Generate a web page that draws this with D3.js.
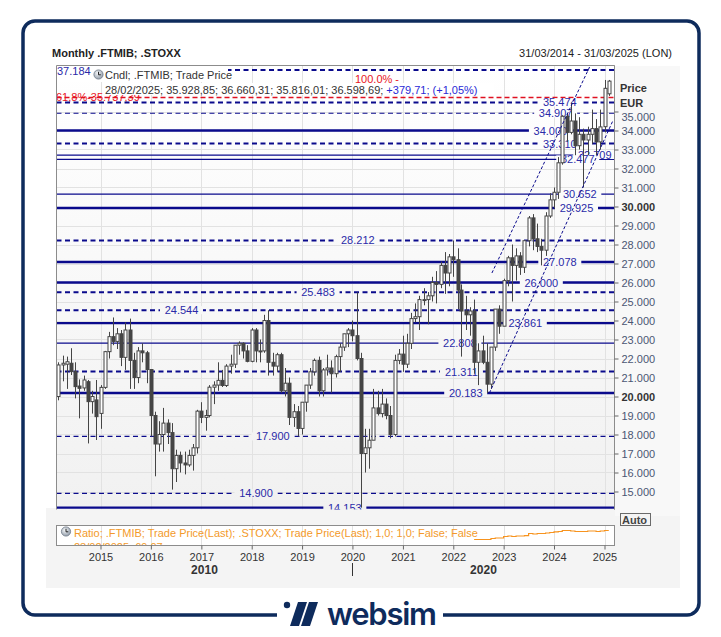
<!DOCTYPE html>
<html><head><meta charset="utf-8">
<script src="https://cdn.jsdelivr.net/npm/d3@7"></script>
<style>
body{margin:0;background:#fff;}
svg{display:block;font-family:"Liberation Sans",Arial,sans-serif;}
</style></head><body><svg id="c" width="721" height="637"></svg>
<script>
// ---------------- DATA ----------------
const startMonth = "2014-03";
const opens  = [20.00,21.66,21.70,21.75,21.31,20.55,20.45,20.78,19.73,19.82,
 19.11,20.48,22.36,23.15,22.90,23.30,22.06,23.50,21.90,21.00,22.40,22.30,
 21.42,19.00,17.50,18.00,18.60,18.10,16.20,16.90,16.50,16.40,16.90,17.30,
 19.23,18.90,19.00,20.49,20.60,20.85,20.58,21.60,21.70,22.70,22.80,22.40,
 21.85,23.50,22.40,22.40,24.00,21.80,21.60,22.20,20.30,20.70,18.90,19.20,
 18.32,19.70,20.60,21.30,21.90,20.30,21.40,21.50,21.20,22.10,22.60,23.30,
 23.50,23.20,22.00,17.00,17.30,17.70,19.40,19.10,19.60,19.00,18.00,21.90,
 22.23,21.70,22.80,24.10,24.20,25.10,25.10,25.30,26.00,25.90,26.90,26.50,
 27.35,27.20,25.60,24.50,24.30,24.50,21.80,22.40,21.80,20.65,22.60,24.60,
 23.70,26.10,27.30,26.90,27.40,26.80,28.20,29.40,28.30,27.90,27.70,29.50,
 30.35,30.75,32.30,34.75,33.90,34.50,33.20,33.80,33.50,33.80,34.10,33.40,
 34.20,35.93];
const highs  = [21.80,22.15,22.10,22.54,21.80,20.90,21.10,20.87,20.30,20.87,
 20.60,22.40,23.40,24.16,23.60,23.50,23.90,24.10,22.30,22.60,22.80,22.40,
 21.42,19.20,18.70,19.40,18.80,18.60,17.20,17.10,17.10,17.20,17.50,19.30,
 19.70,19.30,20.60,20.80,21.80,21.40,21.70,22.20,22.70,22.90,22.85,22.70,
 23.60,23.60,23.00,24.30,24.54,22.30,22.30,22.30,21.50,21.00,19.60,19.50,
 19.70,20.60,21.50,22.00,22.10,21.50,22.20,21.90,22.20,22.80,23.30,23.60,
 24.00,25.48,22.30,18.30,18.30,20.40,20.30,20.40,19.90,19.50,22.20,22.50,
 23.20,23.30,24.40,24.90,25.30,25.70,25.50,26.30,26.60,27.10,27.60,27.50,
 28.21,27.80,25.90,25.30,24.70,25.10,22.80,23.20,22.80,22.60,24.60,24.80,
 26.20,27.40,28.00,27.80,27.60,28.10,29.50,29.60,29.10,28.30,29.70,30.70,
 31.00,32.60,34.80,34.90,35.47,34.90,34.70,34.10,34.20,35.10,34.60,35.10,
 36.66,36.66];
const lows   = [19.80,20.80,20.40,21.13,19.90,18.85,20.30,17.53,19.10,17.71,
 18.30,20.40,22.00,22.70,22.50,21.60,21.40,20.40,20.40,20.70,21.80,20.70,
 17.90,15.80,17.10,17.10,17.50,15.10,15.50,16.00,15.90,16.30,16.10,17.00,
 18.60,18.20,18.90,19.60,20.30,20.50,20.50,21.20,21.50,22.20,22.00,21.80,
 21.80,21.80,21.80,22.30,21.10,21.10,21.30,20.20,20.00,18.50,18.40,17.90,
 18.00,19.20,20.40,21.10,20.00,20.00,21.10,20.20,21.00,21.30,22.40,22.60,
 22.90,21.90,14.15,16.00,16.20,17.70,19.00,18.90,18.80,17.80,17.90,21.70,
 21.30,21.50,22.50,23.90,23.50,24.80,23.80,25.00,24.90,25.70,25.40,25.80,
 26.30,24.60,22.10,23.50,23.20,21.20,20.60,21.70,20.18,20.40,22.40,23.30,
 23.70,25.80,25.00,26.10,26.40,26.50,27.90,27.70,27.60,26.90,27.40,29.40,
 29.90,30.40,32.20,33.40,33.80,32.70,33.00,31.00,32.70,33.30,32.70,33.00,
 33.90,35.82];
const closes = [21.66,21.75,21.83,21.31,20.52,20.43,20.87,19.73,20.00,18.94,
 20.48,22.36,23.15,22.90,23.30,22.06,23.50,21.90,21.00,22.40,22.30,21.42,
 19.00,17.50,18.00,18.60,18.10,16.20,16.90,16.50,16.40,16.90,17.30,19.23,
 18.90,19.00,20.49,20.60,20.85,20.58,21.60,21.70,22.70,22.80,22.40,21.85,
 23.50,22.40,22.40,24.00,21.80,21.60,22.20,20.30,20.70,18.90,19.20,18.32,
 19.70,20.60,21.30,21.90,20.30,21.40,21.50,21.20,22.10,22.60,23.30,23.50,
 23.20,22.00,17.00,17.30,17.70,19.40,19.10,19.60,19.00,18.00,21.90,22.23,
 21.70,22.80,24.10,24.20,25.10,25.10,25.30,26.00,25.90,26.90,26.50,27.35,
 27.20,25.60,24.50,24.30,24.50,21.80,22.40,21.80,20.65,22.60,24.60,23.70,
 26.10,27.30,26.90,27.40,26.80,28.20,29.40,28.30,27.90,27.70,29.50,30.35,
 30.75,32.30,34.75,33.90,34.50,33.20,33.80,33.50,33.80,34.10,33.40,34.19,
 36.22,36.60];

// support / resistance levels (thousands EUR); first one is labelled at the left edge
const levelValues = [37.184,35.474,34.907,34.000,33.310,32.709,32.477,30.652,29.925,28.212,27.078,26.000,25.483,24.544,23.861,22.808,21.311,20.183,17.900,14.900,14.153];
const levelLabelDates = [null,"2024-02-12","2024-01-13","2023-12-06","2024-02-12","2024-10-22","2024-06-21","2024-07-06","2024-06-12","2020-02-09","2024-02-12","2023-10-01","2019-04-27","2016-08-10","2023-06-07","2022-02-18","2022-03-01","2022-04-01","2018-06-03","2018-02-01","2019-11-07"];
const levelKinds = ["thickDash","thickDash","thinDash","thick","thickDash","thin","thin","thin","thick","thickDash","thick","thick","thickDash","thickDash","thick","thin","thickDash","thick","thinDash","thinDash","thick"];

// Fibonacci level
const fibValues = [35.737];
const fibTexts = ["61,8%-35.737,39"];
const fibTopText = "100,0% -";

// trend channel (date, value) pairs
const channelLower = [["2022-09-20",20.183],["2025-03-05",34.55]];
const channelUpper = [["2022-10-08",26.50],["2024-09-20",37.42]];

// ratio panel (.FTMIB / .STOXX)
const ratioStart = "2022-06";
const ratioValues = [52.0,52.0,52.0,52.0,53.9,54.8,54.8,57.7,58.6,57.7,58.6,58.6,59.5,63.3,62.4,63.3,63.3,64.3,65.2,66.2,67.1,69.0,69.0,68.0,67.1,67.1,67.1,68.0,68.0,67.1,68.0,69.0,69.0];

const yTicks = d3.range(15,36);
const xYears = d3.range(2015,2026);
const title = "Monthly .FTMIB; .STOXX";
const dateRange = "31/03/2014 - 31/03/2025 (LON)";
const legend1 = "Cndl; .FTMIB; Trade Price";
const legend2a = "28/02/2025; 35.928,85; 36.660,31; 35.816,01; 36.598,69; ";
const legend2b = "+379,71; (+1,05%)";
const ratioLegend = "Ratio; .FTMIB; Trade Price(Last); .STOXX; Trade Price(Last);  1,0; 1,0; False; False";
const ratioLegend2 = "28/02/2025; 69,07";

// ---------------- LAYOUT ----------------
const svg = d3.select("#c");
const L=56.5,R=614.5,T=65.5,B=509.5, PT=525.5, PB=545.5;
const NAVY="#0a0a8c", LBL="#2a2aa8", CAN="#454545", GRID="#e2e2e2";
const pM = d3.timeParse("%Y-%m"), pD = d3.timeParse("%Y-%m-%d");
const dates = d3.timeMonth.range(pM(startMonth), d3.timeMonth.offset(pM(startMonth), opens.length));
const x = d3.scaleTime().domain([new Date(2015,0,1), new Date(2025,0,1)]).range([100.5,604.5]);
const y = d3.scaleLinear().domain([20,30]).range([396.5,206.5]);
const yR = d3.scaleLinear().domain([40.7,78.4]).range([PB,PT]);
const loc = d3.formatLocale({decimal:",",thousands:".",grouping:[3],currency:["",""]});
const fK = v => loc.format(",")(Math.round(v*1000));

const defs = svg.append("defs");
const g1 = defs.append("linearGradient").attr("id","bg").attr("gradientUnits","userSpaceOnUse")
  .attr("x1",0).attr("y1",T).attr("x2",0).attr("y2",B);
g1.append("stop").attr("offset",0).attr("stop-color","#ffffff");
g1.append("stop").attr("offset",1).attr("stop-color","#f1f1f1");
defs.append("clipPath").attr("id","cp").append("rect").attr("x",L).attr("y",T).attr("width",R-L).attr("height",B-T);
defs.append("clipPath").attr("id","cpr").append("rect").attr("x",L).attr("y",PT).attr("width",R-L).attr("height",PB-PT);
const rg = defs.append("radialGradient").attr("id","ic").attr("cx","40%").attr("cy","35%").attr("r","70%");
rg.append("stop").attr("offset",0).attr("stop-color","#f4f6f8");
rg.append("stop").attr("offset",1).attr("stop-color","#8d98a6");

// page
svg.append("rect").attr("width",721).attr("height",637).attr("fill","#fff");
svg.append("rect").attr("x",46).attr("y",508).attr("width",634).attr("height",80).attr("fill","#f4f4f4");
svg.append("rect").attr("x",615).attr("y",66).attr("width",65).attr("height",450).attr("fill","#f8f8f8");

// title
svg.append("text").attr("x",52).attr("y",57).attr("font-size",11).attr("font-weight","bold").attr("fill","#222").text(title);
svg.append("text").attr("x",672).attr("y",57).attr("text-anchor","end").attr("font-size",11).attr("fill","#222").text(dateRange);

// plot bg
svg.append("rect").attr("x",L).attr("y",T).attr("width",R-L).attr("height",B-T).attr("fill","url(#bg)");
const plot = svg.append("g").attr("clip-path","url(#cp)");
// grid
plot.selectAll(".gy").data(yTicks).join("line").attr("x1",L).attr("x2",R).attr("y1",d=>Math.round(y(d))+0.5).attr("y2",d=>Math.round(y(d))+0.5).attr("stroke",GRID);
plot.selectAll(".gx").data(xYears).join("line").attr("y1",T).attr("y2",B).attr("x1",d=>Math.round(x(new Date(d,0,1)))+0.5).attr("x2",d=>Math.round(x(new Date(d,0,1)))+0.5).attr("stroke",GRID);

// fib texts (under lines)
plot.append("text").attr("x",355).attr("y",83).attr("font-size",11).attr("fill","#e8141e").text(fibTopText);
fibValues.forEach((v,i)=>{
  plot.append("line").attr("x1",L).attr("x2",R).attr("y1",y(v)).attr("y2",y(v)).attr("stroke","#e01020").attr("stroke-width",1.6).attr("stroke-dasharray","5,3");
  plot.append("text").attr("x",56).attr("y",y(v)+4).attr("font-size",11).attr("fill","#e8141e").text(fibTexts[i]);
});

// levels
const kindStyle = {
  thick:{w:2.4,d:null}, thin:{w:1.2,d:null}, thickDash:{w:2,d:"5,3.5"}, thinDash:{w:1.2,d:"5,3.5"}
};
levelValues.forEach((v,i)=>{
  const st = kindStyle[levelKinds[i]];
  const yy = y(v);
  plot.append("line").attr("x1",L).attr("x2",R).attr("y1",yy).attr("y2",yy)
    .attr("stroke",NAVY).attr("stroke-width",st.w).attr("stroke-dasharray",st.d);
});
levelValues.forEach((v,i)=>{
  if(!levelLabelDates[i]) return;
  const yy = y(v), cx = x(pD(levelLabelDates[i]));
  const w = 35;
  plot.append("rect").attr("x",cx-w/2-4).attr("y",yy-4).attr("width",w+8).attr("height",8).attr("fill","url(#bg)");
  plot.append("text").attr("x",cx).attr("y",yy+4).attr("text-anchor","middle").attr("font-size",11).attr("fill",LBL).text(fK(v));
});

// candles
const cw = 3;
const cg = plot.append("g");
cg.selectAll(".w").data(dates).join("line")
  .attr("x1",(d,i)=>Math.round(x(d))+0.5).attr("x2",(d,i)=>Math.round(x(d))+0.5)
  .attr("y1",(d,i)=>y(highs[i])).attr("y2",(d,i)=>y(lows[i])).attr("stroke",CAN).attr("stroke-width",1);
cg.selectAll(".b").data(dates).join("rect")
  .attr("x",(d,i)=>Math.round(x(d))-1)
  .attr("y",(d,i)=>y(Math.max(opens[i],closes[i])))
  .attr("width",cw)
  .attr("height",(d,i)=>Math.max(1,Math.abs(y(opens[i])-y(closes[i]))))
  .attr("fill",(d,i)=>closes[i]>=opens[i]?"#fff":CAN)
  .attr("stroke",CAN).attr("stroke-width",1);

// channel
[channelLower,channelUpper].forEach(c=>{
  plot.append("line").attr("x1",x(pD(c[0][0]))).attr("y1",y(c[0][1])).attr("x2",x(pD(c[1][0]))).attr("y2",y(c[1][1]))
   .attr("stroke",NAVY).attr("stroke-width",1).attr("stroke-dasharray","3,2");
});

// legend (opaque background hides lines beneath it)
svg.append("rect").attr("x",57).attr("y",66).attr("width",171).attr("height",16).attr("fill","#fff");
svg.append("rect").attr("x",103).attr("y",83).attr("width",391).attr("height",12).attr("fill","#fff");
svg.append("circle").attr("cx",98.5).attr("cy",74.5).attr("r",4.6).attr("fill","url(#ic)").attr("stroke","#6d7886").attr("stroke-width",0.8);
svg.append("path").attr("d","M98.5,71.8V74.8H100.8").attr("fill","none").attr("stroke","#222").attr("stroke-width",1);
svg.append("text").attr("x",105).attr("y",79).attr("font-size",11).attr("fill","#333").text(legend1);
const lt = svg.append("text").attr("x",105).attr("y",93.5).attr("font-size",11).attr("fill","#333");
lt.append("tspan").text(legend2a);
lt.append("tspan").attr("fill","#2a2ad6").text(legend2b);
// top level label (left edge)
svg.append("text").attr("x",57).attr("y",75).attr("font-size",11).attr("fill",LBL).text(fK(levelValues[0]));

// plot border
svg.append("path").attr("d",`M${L},${B}V${T}H${R}V${B}`).attr("fill","none").attr("stroke","#8c8c8c");

// y axis
const ya = svg.append("g").attr("transform",`translate(${R},0)`)
  .call(d3.axisRight(y).tickValues(yTicks).tickSize(4).tickFormat(fK));
ya.select(".domain").attr("stroke","#8c8c8c").attr("d",`M0,${T}V${B}`);
ya.selectAll(".tick line").attr("stroke","#666");
ya.selectAll(".tick text").attr("x",7).attr("font-size",11).attr("font-family","Liberation Sans, Arial, sans-serif")
  .attr("fill",d=>(d%10===0)?"#333":"#4b5673").attr("font-weight",d=>(d%10===0)?"bold":"normal");
ya.selectAll(".tick").filter(d=>d===35).select("text").attr("dy","0.85em");
svg.append("text").attr("x",620).attr("y",92).attr("font-size",11).attr("font-weight","bold").attr("fill","#333").text("Price");
svg.append("text").attr("x",620).attr("y",107).attr("font-size",11).attr("font-weight","bold").attr("fill","#333").text("EUR");
// auto button
svg.append("rect").attr("x",620.5).attr("y",513.5).attr("width",30).attr("height",12).attr("fill","#f4f4f4").attr("stroke","#6a6a6a");
svg.append("text").attr("x",622).attr("y",523.5).attr("font-size",11).attr("font-weight","bold").attr("fill","#444").text("Auto");

// ratio panel
svg.append("rect").attr("x",L).attr("y",PT).attr("width",R-L).attr("height",PB-PT).attr("fill","#fff");
const rp = svg.append("g").attr("clip-path","url(#cpr)");
rp.selectAll(".gx").data(xYears).join("line").attr("y1",PT).attr("y2",PB).attr("x1",d=>Math.round(x(new Date(d,0,1)))+0.5).attr("x2",d=>Math.round(x(new Date(d,0,1)))+0.5).attr("stroke",GRID);
const rDates = d3.timeMonth.range(pM(ratioStart), d3.timeMonth.offset(pM(ratioStart), ratioValues.length));
rp.append("path").datum(ratioValues).attr("fill","none").attr("stroke","#f7931e").attr("stroke-width",1.2)
  .attr("d",d3.line().x((d,i)=>x(rDates[i])).y(d=>yR(d)).curve(d3.curveStepAfter));
rp.append("text").attr("x",74).attr("y",537).attr("font-size",11).attr("fill","#f39a2a").text(ratioLegend);
rp.append("text").attr("x",74).attr("y",551).attr("font-size",11).attr("fill","#f39a2a").text(ratioLegend2);
svg.append("circle").attr("cx",66).attr("cy",531.5).attr("r",4.6).attr("fill","url(#ic)").attr("stroke","#6d7886").attr("stroke-width",0.8);
svg.append("path").attr("d","M66,528.8V531.8H68.3").attr("fill","none").attr("stroke","#222").attr("stroke-width",1);
svg.append("rect").attr("x",L).attr("y",PT).attr("width",R-L).attr("height",PB-PT).attr("fill","none").attr("stroke","#8c8c8c");

// x axis
const xa = svg.append("g").attr("transform",`translate(0,${PB})`)
  .call(d3.axisBottom(x).tickValues(xYears.map(d=>new Date(d,0,1))).tickSize(4).tickFormat(d3.timeFormat("%Y")));
xa.select(".domain").remove();
xa.selectAll(".tick line").attr("stroke","#666");
xa.selectAll(".tick text").attr("y",8).attr("font-size",11).attr("font-family","Liberation Sans, Arial, sans-serif").attr("fill","#333");
const x2020 = x(new Date(2020,0,1));
svg.append("text").attr("x",(L+x2020)/2).attr("y",574).attr("text-anchor","middle").attr("font-size",12).attr("font-weight","bold").attr("fill","#333").text("2010");
svg.append("text").attr("x",(x2020+R)/2).attr("y",574).attr("text-anchor","middle").attr("font-size",12).attr("font-weight","bold").attr("fill","#333").text("2020");
svg.append("line").attr("x1",Math.round(x2020)+0.5).attr("x2",Math.round(x2020)+0.5).attr("y1",563).attr("y2",576).attr("stroke","#333");

// outer frame + logo
svg.append("rect").attr("x",23).attr("y",21).attr("width",676).attr("height",594).attr("rx",12).attr("fill","none").attr("stroke","#0e2b5c").attr("stroke-width",3.5);
svg.append("rect").attr("x",277).attr("y",605).attr("width",166).attr("height",25).attr("fill","#fff");
svg.append("circle").attr("cx",287).attr("cy",605).attr("r",3.2).attr("fill","#0e2b5c");
svg.append("path").attr("d","M298,602H307L299,626H290Z").attr("fill","#0e2b5c");
svg.append("path").attr("d","M309,602H318L310,626H301Z").attr("fill","#0e2b5c");
svg.append("text").attr("x",327).attr("y",625).attr("font-family","Inter, Roboto, sans-serif").attr("font-weight",600).attr("font-size",31).attr("textLength",110).attr("fill","#0e2b5c").text("websim");
</script></body></html>
